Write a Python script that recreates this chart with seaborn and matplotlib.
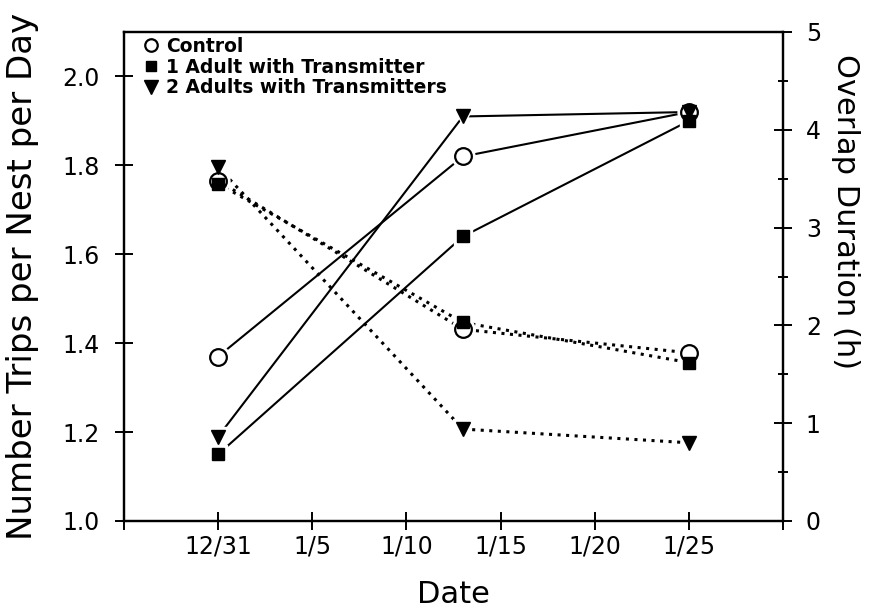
import matplotlib
matplotlib.use("Agg")
import matplotlib.pyplot as plt
import seaborn as sns
import pandas as pd
from matplotlib.lines import Line2D
from matplotlib.ticker import FixedLocator, MultipleLocator

# ---------------- data ----------------
days = [0, 13, 25]  # days after 12/31
groups = ["Control", "1 Adult with Transmitter", "2 Adults with Transmitters"]
trips_control = [1.37, 1.82, 1.92]
trips_one = [1.15, 1.64, 1.90]
trips_two = [1.19, 1.91, 1.92]
overlap_control = [3.48, 1.96, 1.72]
overlap_one = [3.45, 2.03, 1.62]
overlap_two = [3.62, 0.94, 0.80]
xtick_days = [-5, 0, 5, 10, 15, 20, 25, 30]
xtick_labels = ["", "12/31", "1/5", "1/10", "1/15", "1/20", "1/25", ""]
left_ticks = [1.0, 1.2, 1.4, 1.6, 1.8, 2.0]
right_ticks = [0, 1, 2, 3, 4, 5]

trips = [trips_control, trips_one, trips_two]
overlaps = [overlap_control, overlap_one, overlap_two]
rows = []
for g, t, o in zip(groups, trips, overlaps):
    for d, tv, ov in zip(days, t, o):
        rows.append({"group": g, "day": d, "trips": tv, "overlap": ov})
df = pd.DataFrame(rows)

plt.rcParams["font.family"] = ["DejaVu Sans"]

marker_style = {
    "Control": dict(marker="o", mfc="white", mec="black", ms=12, mew=1.6),
    "1 Adult with Transmitter": dict(marker="s", mfc="black", mec="black", ms=8.5, mew=1),
    "2 Adults with Transmitters": dict(marker="v", mfc="black", mec="black", ms=10, mew=1),
}

fig = plt.figure(figsize=(8.7, 6.11), dpi=100)
W, H = 870, 611
ax = fig.add_axes([124 / W, 1 - 521 / H, (783 - 124) / W, (521 - 32) / H])
ax2 = ax.twinx()

dotted = (0, (1.0, 1.8))

for axis, col, ls, lw in [(ax, "trips", "-", 1.5), (ax2, "overlap", dotted, 2.2)]:
    for g in groups:
        sub = df[df["group"] == g]
        sns.lineplot(data=sub, x="day", y=col, ax=axis, color="black",
                     linewidth=lw, linestyle=ls, legend=False, zorder=2,
                     errorbar=None)
    # white halos so lines stop short of markers
    for g in groups:
        sub = df[df["group"] == g]
        st = marker_style[g]
        axis.plot(sub["day"], sub[col], ls="none", marker=st["marker"],
                  ms=st["ms"] + 4.5, mfc="white", mec="white", mew=1, zorder=3)
    for g in groups:
        sub = df[df["group"] == g]
        axis.plot(sub["day"], sub[col], ls="none", zorder=4, **marker_style[g])

# ---------------- axes ----------------
ax.set_xlim(-5, 30)
ax.set_ylim(1.0, 2.1)
ax2.set_ylim(0, 5)

ax.xaxis.set_major_locator(FixedLocator(xtick_days))
ax.set_xticklabels(xtick_labels)
ax.yaxis.set_major_locator(FixedLocator(left_ticks))
ax.set_yticklabels([f"{v:.1f}" for v in left_ticks])
ax2.yaxis.set_major_locator(FixedLocator(right_ticks))
ax2.yaxis.set_minor_locator(MultipleLocator(0.5))
ax2.set_yticklabels([str(v) for v in right_ticks])

ax.set_xlabel("")
ax.set_ylabel("")
ax2.set_ylabel("")

for a in (ax, ax2):
    for s in a.spines.values():
        s.set_linewidth(1.6)
        s.set_color("black")

ax.tick_params(axis="x", direction="inout", length=13, width=1.4,
               labelsize=17, pad=3, top=False)
ax.tick_params(axis="y", direction="inout", length=13, width=1.4,
               labelsize=17, pad=11, right=False)
ax.tick_params(axis="y", which="minor", left=False)
ax2.tick_params(axis="y", which="major", direction="inout", length=13,
                width=1.4, labelsize=17, pad=10)
ax2.tick_params(axis="y", which="minor", direction="inout", length=7, width=1.4)

fig.text(23 / W, 1 - 276 / H, "Number Trips per Nest per Day", rotation=90,
         ha="center", va="center", fontsize=24.5)
fig.text(846 / W, 1 - 211.5 / H, "Overlap Duration (h)", rotation=270,
         ha="center", va="center", fontsize=22)
fig.text(453.5 / W, 1 - 609 / H, "Date", ha="center", va="bottom", fontsize=22)

# ---------------- legend ----------------
handles = []
leg_ms = {"o": 9, "s": 7.5, "v": 10}
for g in groups:
    st = dict(marker_style[g])
    st["ms"] = leg_ms[st["marker"]]
    handles.append(Line2D([], [], ls="none", **st))
leg = ax2.legend(handles, groups, loc="upper left",
                 bbox_to_anchor=((141.6 - 124) / 659, (521 - 37) / 489),
                 frameon=False, borderpad=0, borderaxespad=0,
                 handlelength=1.0, handletextpad=0.3, labelspacing=0.09,
                 prop={"weight": "bold", "size": 13.5})

fig.savefig("out.png", dpi=100)
